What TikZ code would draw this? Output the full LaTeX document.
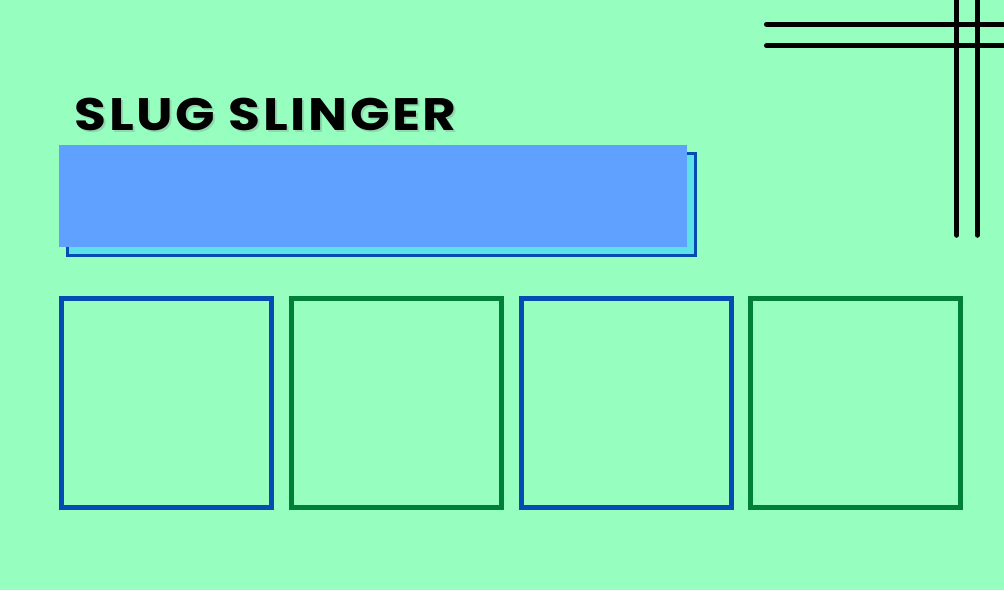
\documentclass[tikz,border=0pt]{standalone}
\usepackage{fontspec}
\newfontfamily\titlefont{Poppins}[LetterSpace=5]
\definecolor{mint}{RGB}{150,255,192}
\definecolor{cardblue}{RGB}{96,161,255}
\definecolor{cardcyan}{RGB}{92,225,230}
\definecolor{darkblue}{RGB}{4,76,180}
\definecolor{darkgreen}{RGB}{0,128,55}

\begin{document}
\begin{tikzpicture}[x=1pt, y=-1pt,
	frame/.style={line width=5pt},
	bar/.style={line width=5.5pt, line cap=round, black},
	titletext/.style={anchor=base west, inner sep=0pt, xscale=1.14, font=\titlefont\bfseries\fontsize{45.5}{45.5}\selectfont}]
	\useasboundingbox (0,0) rectangle (1004,590);
	\fill[mint] (0,0) rectangle (1004,590);
	% title
	\node[titletext, text=black!50, opacity=0.3] (shadow) at (76.5,132.5) {SLUG SLINGER};
	\node[titletext] (title) at (74.5,130) {SLUG SLINGER};
	% banner
	\coordinate (B1) at (67.5,153.5);
	\coordinate (B2) at (695.2,255.8);
	\draw[fill=cardcyan, draw=darkblue, line width=3pt] (B1) rectangle (B2);
	\coordinate (F1) at (59,144.7);
	\coordinate (F2) at (686.7,247.3);
	\fill[cardblue] (F1) rectangle (F2);
	% corner bars
	\coordinate (H1) at (766.7,24.3);
	\coordinate (H2) at (766.7,45.7);
	\coordinate (V1) at (956.7,0);
	\coordinate (V2) at (977.3,0);
	\draw[bar] (H1) -- (1010,24.3);
	\draw[bar] (H2) -- (1010,45.7);
	\draw[bar] (V1) -- (956.7,235);
	\draw[bar] (V2) -- (977.3,235);
	% squares
	\foreach \i/\c in {0/darkblue,1/darkgreen,2/darkblue,3/darkgreen}{
		\draw[frame, \c] (61.8+229.7*\i,298.2) rectangle ++(210,209.5);
	}
\end{tikzpicture}
\end{document}
